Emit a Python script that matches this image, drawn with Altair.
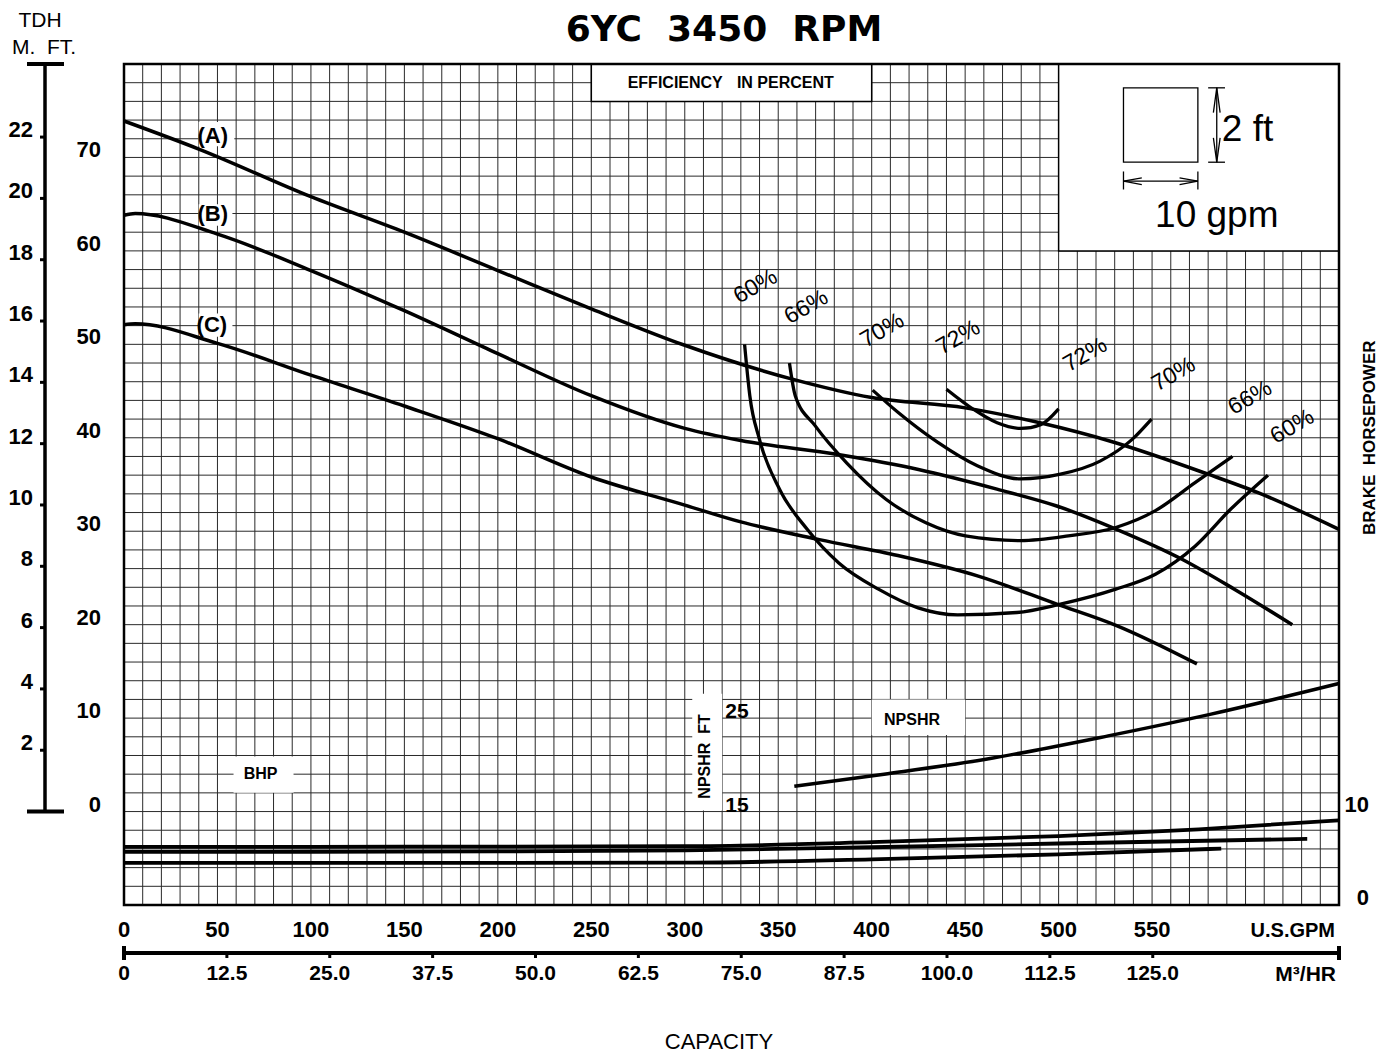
import altair as alt
import pandas as pd
import numpy as np

# ---------------- data ----------------
gpm_ticks = [0, 50, 100, 150, 200, 250, 300, 350, 400, 450, 500, 550]
ft_ticks = [0, 10, 20, 30, 40, 50, 60, 70]
m_ticks = [2, 4, 6, 8, 10, 12, 14, 16, 18, 20, 22]
m3h_ticks = [0, 12.5, 25.0, 37.5, 50.0, 62.5, 75.0, 87.5, 100.0, 112.5, 125.0]
m3h_labels = ["0", "12.5", "25.0", "37.5", "50.0", "62.5", "75.0", "87.5", "100.0", "112.5", "125.0"]
bhp_ticks = [0, 10]
npshr_ticks = [15, 25]

# head curves (US gpm, ft)
A_q = [0, 40, 100, 150, 200, 250, 300, 357, 400, 450, 490, 530, 580, 607, 650]
A_h = [73.9, 70.9, 65.8, 62.0, 57.9, 53.8, 49.9, 46.3, 44.3, 43.2, 41.6, 39.5, 36.1, 34.1, 30.2]
B_q = [0, 6, 50, 100, 150, 200, 250, 300, 330, 382, 425, 467, 499, 531, 566, 594, 625]
B_h = [63.8, 64.0, 61.8, 57.9, 53.6, 49.0, 44.5, 41.0, 39.7, 38.2, 36.6, 34.5, 32.7, 30.2, 27.0, 23.8, 20.0]
C_q = [0, 6, 50, 100, 150, 200, 250, 300, 330, 372, 414, 457, 499, 531, 574]
C_h = [52.1, 52.2, 50.1, 46.7, 43.4, 39.9, 35.8, 32.8, 31.0, 29.1, 27.4, 25.2, 22.2, 19.9, 15.8]

# efficiency iso-curves (gpm, ft)
E60_q = [332, 334.8, 340, 350.7, 365.5, 382.4, 403.6, 424.8, 446, 477.7, 501, 530.6, 551.8, 573, 592, 612]
E60_h = [50.0, 44.5, 39.8, 34.5, 30.2, 26.6, 23.8, 21.8, 21.05, 21.3, 22.2, 23.8, 25.4, 28.4, 32.35, 36.0]
E66_q = [356, 359.1, 369.7, 386.7, 407.8, 429, 450.2, 479.8, 505.2, 530.6, 551.8, 573, 593]
E66_h = [48.0, 44.5, 41.3, 37.3, 33.4, 30.9, 29.5, 29.0, 29.5, 30.4, 32.2, 35.2, 38.0]
E70_q = [400.5, 414.2, 435.4, 456.5, 479.8, 501, 522.2, 539.2, 549.7]
E70_h = [45.1, 42.7, 39.5, 37.0, 35.6, 36.1, 37.5, 39.8, 42.0]
E72_q = [440, 454.4, 467.1, 479.8, 490.4, 500]
E72_h = [45.2, 43.05, 41.6, 41.0, 41.4, 43.1]

# NPSHR (gpm, ft)
N_q = [358.6, 406.6, 461.1, 526.5, 581, 650]
N_ft = [17.7, 19.0, 20.6, 23.1, 25.4, 28.7]

# brake horsepower (gpm, hp)
PA_q = [0, 100, 200, 300, 400, 500, 575, 650]
PA_hp = [6.22, 6.23, 6.25, 6.29, 6.72, 7.38, 8.1, 9.07]
PB_q = [0, 100, 200, 300, 400, 500, 633]
PB_hp = [5.69, 5.70, 5.73, 5.84, 6.18, 6.58, 7.08]
PC_q = [0, 100, 200, 300, 400, 500, 587]
PC_hp = [4.51, 4.51, 4.51, 4.53, 4.88, 5.42, 6.04]

# efficiency labels
eff_text = ["60%", "66%", "70%", "72%", "72%", "70%", "66%", "60%"]
eff_q = [337.8, 365.0, 405.6, 446.3, 514.2, 561.5, 602.4, 625.0]
eff_h = [56.2, 54.0, 51.5, 50.75, 48.9, 46.8, 44.3, 41.2]

# ---------------- helpers ----------------
W, H = 1215, 841
FR = "Liberation Sans, Arial, sans-serif"
NB = "\u00a0"
xs = alt.Scale(domain=[0, 650], nice=False, zero=False)
ys = alt.Scale(domain=[-10, 80], nice=False, zero=False)


def X(f="q"):
    return alt.X(f"{f}:Q", scale=xs, axis=None)


def Y(f="h"):
    return alt.Y(f"{f}:Q", scale=ys, axis=None)


def curve(name, q, h):
    return pd.DataFrame({"curve": name, "q": q, "h": h, "o": list(range(len(q)))})


layers = []

# grid
layers.append(alt.Chart(pd.DataFrame({"q": np.arange(0, 651, 10)})).mark_rule(
    color="#2a2a2a", strokeWidth=1).encode(x=X()))
layers.append(alt.Chart(pd.DataFrame({"h": np.arange(-10, 81, 2)})).mark_rule(
    color="#2a2a2a", strokeWidth=1).encode(y=Y()))

# white label boxes
boxes = pd.DataFrame({
    "q": [58.6, 400, 304, 40, 40, 40],
    "q2": [90.7, 450, 320, 59, 58, 58],
    "h": [2.0, 8.2, 0.1, 71.2, 62.7, 50.8],
    "h2": [5.9, 12.0, 12.6, 73.8, 65.0, 53.3],
})
layers.append(alt.Chart(boxes).mark_rect(color="white").encode(
    x=X(), x2="q2:Q", y=Y(), y2="h2:Q"))
framed = pd.DataFrame({"q": [250, 500], "q2": [400, 650], "h": [76, 60], "h2": [80, 80]})
layers.append(alt.Chart(framed).mark_rect(fill="white", stroke="black", strokeWidth=1.5).encode(
    x=X(), x2="q2:Q", y=Y(), y2="h2:Q"))

# scale legend inside box
sq = pd.DataFrame({"q": [534.7], "q2": [574.5], "h": [69.49], "h2": [77.45]})
layers.append(alt.Chart(sq).mark_rect(filled=False, stroke="black", strokeWidth=1.3).encode(
    x=X(), x2="q2:Q", y=Y(), y2="h2:Q"))
arrows = pd.concat([
    curve("v", [584.6, 584.6], [77.45, 69.49]),
    curve("vt", [580, 589], [77.45, 77.45]),
    curve("vb", [580, 589], [69.49, 69.49]),
    curve("vha", [582.8, 584.6, 586.4], [74.8, 77.45, 74.8]),
    curve("vhb", [582.8, 584.6, 586.4], [72.1, 69.49, 72.1]),
    curve("hz", [534.7, 574.5], [67.46, 67.46]),
    curve("hl", [534.7, 534.7], [68.5, 66.57]),
    curve("hr", [574.5, 574.5], [68.5, 66.57]),
    curve("hla", [544.5, 534.7, 544.5], [67.82, 67.46, 67.1]),
    curve("hra", [564.7, 574.5, 564.7], [67.82, 67.46, 67.1]),
])
layers.append(alt.Chart(arrows).mark_line(color="black", strokeWidth=1.3).encode(
    x=X(), y=Y(), detail="curve:N", order="o:Q"))
layers.append(alt.Chart(pd.DataFrame({"t": ["2 ft"], "q": [587.3], "h": [71.8]})).mark_text(
    font=FR, fontSize=37, align="left", baseline="alphabetic").encode(x=X(), y=Y(), text="t:N"))
layers.append(alt.Chart(pd.DataFrame({"t": ["10 gpm"], "q": [551.6], "h": [62.6]})).mark_text(
    font=FR, fontSize=37, align="left", baseline="alphabetic").encode(x=X(), y=Y(), text="t:N"))

# curves
heads = pd.concat([curve("A", A_q, A_h), curve("B", B_q, B_h), curve("C", C_q, C_h)])
effs = pd.concat([curve("60", E60_q, E60_h), curve("66", E66_q, E66_h),
                  curve("70", E70_q, E70_h), curve("72", E72_q, E72_h)])
npshr = curve("N", N_q, [v - 15 for v in N_ft])
bhp = pd.concat([curve("PA", PA_q, [v - 10 for v in PA_hp]),
                 curve("PB", PB_q, [v - 10 for v in PB_hp]),
                 curve("PC", PC_q, [v - 10 for v in PC_hp])])
for d, sw in [(heads, 3.5), (effs, 3.3), (npshr, 3.5), (bhp, 3.8)]:
    layers.append(alt.Chart(d).mark_line(color="black", strokeWidth=sw, interpolate="monotone").encode(
        x=X(), y=Y(), detail="curve:N", order="o:Q"))

# in-plot labels
layers.append(alt.Chart(pd.DataFrame({"t": eff_text, "q": eff_q, "h": eff_h})).mark_text(
    font=FR, fontSize=23, angle=330, align="center", baseline="middle").encode(x=X(), y=Y(), text="t:N"))
layers.append(alt.Chart(pd.DataFrame({"t": ["(A)", "(B)", "(C)"], "q": [47.5, 47.5, 47.0],
                                      "h": [72.3, 64.0, 52.1]})).mark_text(
    font=FR, fontSize=22, fontWeight="bold", align="center", baseline="middle").encode(x=X(), y=Y(), text="t:N"))
bold_lbl = pd.DataFrame({"t": ["EFFICIENCY", "IN PERCENT", "BHP", "NPSHR"],
                         "q": [294.9, 353.8, 73.1, 421.6], "h": [78.0, 78.0, 4.07, 9.85],
                         "s": [16, 16, 16, 16]})
layers.append(alt.Chart(bold_lbl).mark_text(
    font=FR, fontSize=16, fontWeight="bold", align="center", baseline="middle").encode(
    x=X(), y=Y(), text="t:N"))
layers.append(alt.Chart(pd.DataFrame({"t": ["NPSHR" + NB * 2 + "FT"], "q": [311], "h": [5.9]})).mark_text(
    font=FR, fontSize=16, fontWeight="bold", angle=270, align="center", baseline="middle").encode(
    x=X(), y=Y(), text="t:N"))
layers.append(alt.Chart(pd.DataFrame({"t": [str(v) for v in npshr_ticks],
                                      "h": [v - 15 for v in npshr_ticks], "q": [321.7, 321.7]})).mark_text(
    font=FR, fontSize=21, fontWeight="bold", align="left", baseline="alphabetic").encode(
    x=X(), y=Y(), text="t:N"))

# frame
layers.append(alt.Chart(pd.DataFrame({"q": [0], "q2": [650], "h": [-10], "h2": [80]})).mark_rect(
    filled=False, stroke="black", strokeWidth=2.5).encode(x=X(), x2="q2:Q", y=Y(), y2="h2:Q"))

# left ft labels
layers.append(alt.Chart(pd.DataFrame({"h": ft_ticks, "t": [str(v) for v in ft_ticks]})).mark_text(
    font=FR, fontSize=22, fontWeight="bold", align="right", baseline="alphabetic").encode(
    x=alt.value(-23), y=Y(), text="t:N"))

# metre axis
mdf = pd.DataFrame({"m": m_ticks, "t": [str(v) for v in m_ticks]})
mdf["h"] = mdf["m"] * 3.28084
layers.append(alt.Chart(pd.DataFrame({"h": [80], "h2": [0]})).mark_rule(color="black", strokeWidth=3.5).encode(
    x=alt.value(-79), y=Y(), y2="h2:Q"))
layers.append(alt.Chart(pd.DataFrame({"h": [80, 0]})).mark_rule(color="black", strokeWidth=4).encode(
    x=alt.value(-97), x2=alt.value(-60), y=Y()))
layers.append(alt.Chart(mdf).mark_rule(color="black", strokeWidth=3).encode(
    x=alt.value(-84), x2=alt.value(-79), y=Y()))
layers.append(alt.Chart(mdf).mark_text(font=FR, fontSize=22, fontWeight="bold", align="right",
                                       baseline="alphabetic").encode(
    x=alt.value(-91), y=Y(), text="t:N"))
layers.append(alt.Chart(pd.DataFrame({"t": ["TDH", "M." + NB * 2 + "FT."], "y": [-43, -16],
                                      "x": [-84, -80]})).mark_text(
    font=FR, fontSize=21, align="center", baseline="middle").encode(
    x=alt.X("x:Q", scale=None, axis=None), y=alt.Y("y:Q", scale=None, axis=None), text="t:N"))

# right BHP axis labels
layers.append(alt.Chart(pd.DataFrame({"h": [v - 10 for v in bhp_ticks], "t": [str(v) for v in bhp_ticks]})).mark_text(
    font=FR, fontSize=22, fontWeight="bold", align="right", baseline="alphabetic").encode(
    x=alt.value(1245), y=Y(), text="t:N"))
layers.append(alt.Chart(pd.DataFrame({"t": ["BRAKE" + NB * 2 + "HORSEPOWER"], "h": [40.0]})).mark_text(
    font=FR, fontSize=17, fontWeight="bold", angle=270, align="center", baseline="middle").encode(
    x=alt.value(1246), y=Y(), text="t:N"))

# bottom gpm labels
layers.append(alt.Chart(pd.DataFrame({"q": gpm_ticks, "t": [str(v) for v in gpm_ticks]})).mark_text(
    font=FR, fontSize=22, fontWeight="bold", align="center", baseline="alphabetic").encode(
    x=X(), y=alt.value(873), text="t:N"))
layers.append(alt.Chart(pd.DataFrame({"t": ["U.S.GPM"]})).mark_text(
    font=FR, fontSize=20, fontWeight="bold", align="right", baseline="alphabetic").encode(
    x=alt.value(1211), y=alt.value(873), text="t:N"))

# m3/hr axis
m3 = pd.DataFrame({"m3h": m3h_ticks, "t": m3h_labels})
m3["q"] = m3["m3h"] * 4.402868
layers.append(alt.Chart(pd.DataFrame({"t": ["line"]})).mark_rule(color="black", strokeWidth=4).encode(
    x=alt.value(0), x2=alt.value(1215), y=alt.value(889)))
layers.append(alt.Chart(pd.DataFrame({"x": [0, 1215]})).mark_rule(color="black", strokeWidth=4).encode(
    x=alt.X("x:Q", scale=None, axis=None), y=alt.value(882), y2=alt.value(896)))
layers.append(alt.Chart(m3).mark_rule(color="black", strokeWidth=3).encode(
    x=X(), y=alt.value(889), y2=alt.value(894)))
layers.append(alt.Chart(m3).mark_text(font=FR, fontSize=21, fontWeight="bold", align="center",
                                      baseline="alphabetic").encode(
    x=X(), y=alt.value(916), text="t:N"))
layers.append(alt.Chart(pd.DataFrame({"t": ["M³/HR"]})).mark_text(
    font=FR, fontSize=21, fontWeight="bold", align="right", baseline="alphabetic").encode(
    x=alt.value(1212), y=alt.value(917), text="t:N"))

# title and capacity
layers.append(alt.Chart(pd.DataFrame({"t": ["6YC" + NB * 2 + "3450" + NB * 2 + "RPM"]})).mark_text(
    font="DejaVu Sans", fontSize=36, fontWeight="bold", align="center", baseline="middle").encode(
    x=alt.value(600), y=alt.value(-34), text="t:N"))
layers.append(alt.Chart(pd.DataFrame({"t": ["CAPACITY"]})).mark_text(
    font=FR, fontSize=22, align="center", baseline="middle").encode(
    x=alt.value(595), y=alt.value(978), text="t:N"))

chart = alt.layer(*layers).properties(
    width=W, height=H,
    autosize=alt.AutoSizeParams(type="none"),
    padding={"left": 116, "top": 56, "right": 41, "bottom": 148},
    background="white",
).configure_view(stroke=None)

chart.save("out.html", embed_options={"renderer": "svg", "actions": False})
